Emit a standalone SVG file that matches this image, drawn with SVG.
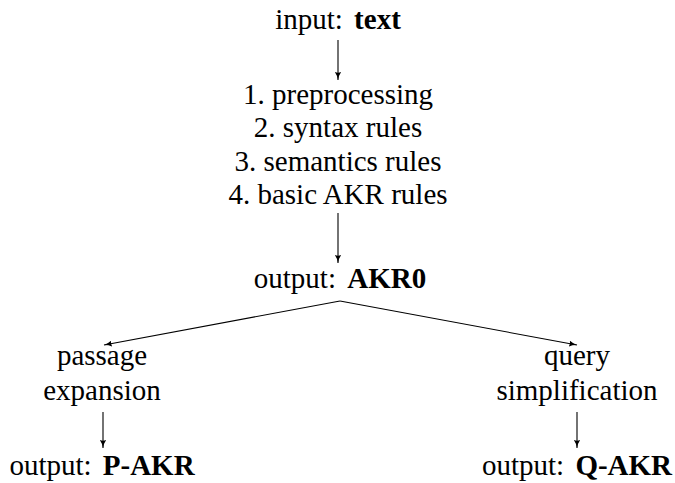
<svg xmlns="http://www.w3.org/2000/svg" width="675" height="483" viewBox="0 0 675 483">
<style>
text{font-family:"Liberation Serif","Times New Roman",serif;font-size:29px;fill:#000;text-anchor:middle}
.b{font-weight:bold}
.c{stroke:#000;stroke-width:1.1;fill:none}
</style>
<defs>
<marker id="ah" viewBox="0 0 10 8" refX="10" refY="4" markerWidth="8" markerHeight="6.4" markerUnits="userSpaceOnUse" orient="auto">
<path d="M0,0 Q4,3 10,4 Q4,5 0,8 Q2,4 0,0 Z" fill="#000"/>
</marker>
</defs>
<rect width="675" height="483" fill="#fff"/>
<g id="connectors">
<line class="c" x1="338" y1="40" x2="338" y2="80" marker-end="url(#ah)"/>
<line class="c" x1="338" y1="213" x2="338" y2="263" marker-end="url(#ah)"/>
<line class="c" x1="340" y1="301" x2="104" y2="345" marker-end="url(#ah)"/>
<line class="c" x1="340" y1="301" x2="577" y2="345" marker-end="url(#ah)"/>
<line class="c" x1="103" y1="412" x2="103" y2="448" marker-end="url(#ah)"/>
<line class="c" x1="577" y1="412" x2="577" y2="448" marker-end="url(#ah)"/>
</g>
<g id="input"><text x="338" y="29">input: <tspan class="b" dx="4">text</tspan></text></g>
<g id="steps">
<text x="338" y="104">1. preprocessing</text>
<text x="338" y="137">2. syntax rules</text>
<text x="338" y="171">3. semantics rules</text>
<text x="338" y="204">4. basic AKR rules</text>
</g>
<g id="akr0"><text x="340" y="288">output: <tspan class="b" dx="4">AKR0</tspan></text></g>
<g id="passage">
<text x="102" y="365">passage</text>
<text x="102" y="400">expansion</text>
</g>
<g id="query">
<text x="577" y="365">query</text>
<text x="577" y="400">simplification</text>
</g>
<g id="pakr"><text x="102" y="475">output: <tspan class="b" dx="4">P-AKR</tspan></text></g>
<g id="qakr"><text x="577" y="475">output: <tspan class="b" dx="4">Q-AKR</tspan></text></g>
</svg>
